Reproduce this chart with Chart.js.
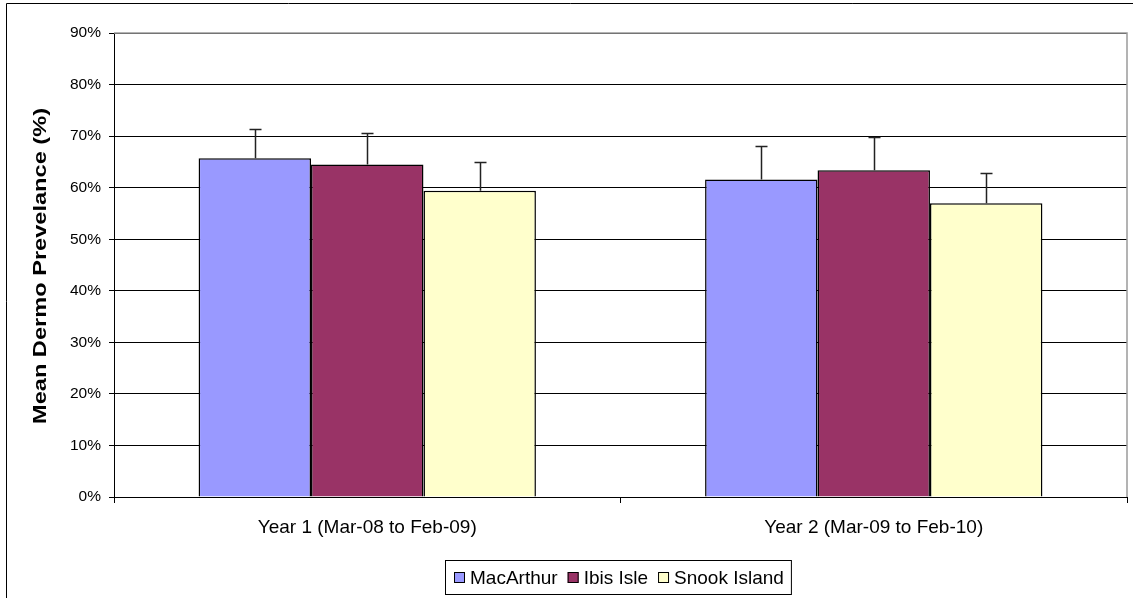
<!DOCTYPE html>
<html>
<head>
<meta charset="utf-8">
<script src="https://cdn.jsdelivr.net/npm/chart.js@4.4.1/dist/chart.umd.min.js"></script>
<style>
  html, body { margin: 0; padding: 0; background: #fff; }
  #wrap { width: 1133px; height: 598px; position: relative; }
</style>
</head>
<body>
<div id="wrap"><canvas id="dermo"></canvas></div>
<script>
const periods = ["Year 1 (Mar-08 to Feb-09)", "Year 2 (Mar-09 to Feb-10)"];
const sites = ["MacArthur", "Ibis Isle", "Snook Island"];
const macArthur = [65.7, 61.6];
const ibisIsle = [64.5, 63.4];
const snookIsland = [59.4, 57.0];
// upper error (percentage points)
const errMacArthur = [5.7, 6.4];
const errIbisIsle = [6.2, 6.4];
const errSnookIsland = [5.5, 5.8];
const yTicks = [0, 10, 20, 30, 40, 50, 60, 70, 80, 90];
const yTitle = "Mean Dermo Prevelance (%)";

const FONT = "'Liberation Sans', Arial, sans-serif";

const errorBars = {
  id: "errorBars",
  afterDatasetsDraw(chart) {
    const ctx = chart.ctx;
    const y = chart.scales.y;
    ctx.save();
    ctx.strokeStyle = "#222";
    ctx.lineWidth = 1.5;
    chart.data.datasets.forEach((ds, i) => {
      chart.getDatasetMeta(i).data.forEach((bar, j) => {
        const top = Math.round(y.getPixelForValue(ds.data[j] + ds.errors[j])) + 0.5;
        const x = Math.round(bar.x) + 0.5;
        ctx.beginPath();
        ctx.moveTo(x, bar.y);
        ctx.lineTo(x, top);
        ctx.moveTo(x - 6, top);
        ctx.lineTo(x + 6, top);
        ctx.stroke();
      });
    });
    ctx.restore();
  }
};

const frame = {
  id: "frame",
  beforeDatasetsDraw(chart) {
    const a = chart.chartArea;
    const ctx = chart.ctx;
    ctx.save();
    ctx.strokeStyle = "#9a9a9a";
    ctx.lineWidth = 1.5;
    ctx.beginPath();
    ctx.moveTo(a.left, a.top);
    ctx.lineTo(a.right, a.top);
    ctx.lineTo(a.right, a.bottom);
    ctx.stroke();
    ctx.restore();
  },
  afterDraw(chart) {
    const ctx = chart.ctx;
    const a = chart.chartArea;
    ctx.save();
    // outer chart border
    ctx.strokeStyle = "#000";
    ctx.lineWidth = 1;
    ctx.beginPath();
    ctx.moveTo(6.5, chart.height + 2);
    ctx.lineTo(6.5, 3.5);
    ctx.lineTo(chart.width + 2, 3.5);
    ctx.stroke();

    // y axis title, stretched like the original
    ctx.fillStyle = "#000";
    ctx.font = "bold 18px " + FONT;
    ctx.textAlign = "center";
    ctx.textBaseline = "alphabetic";
    const w = ctx.measureText(yTitle).width;
    ctx.translate(46, (a.top + a.bottom) / 2 + 1);
    ctx.rotate(-Math.PI / 2);
    ctx.scale(316 / w, 1);
    ctx.fillText(yTitle, 0, 0);
    ctx.restore();

    // legend
    ctx.save();
    ctx.font = "19px " + FONT;
    ctx.textBaseline = "alphabetic";
    ctx.textAlign = "left";
    const ds = chart.data.datasets;
    const box = 11, gapText = 5, gapItem = 10;
    const widths = ds.map(d => ctx.measureText(d.label).width);
    let total = 0;
    widths.forEach((tw, i) => { total += box + gapText + tw + (i < widths.length - 1 ? gapItem : 0); });
    const cx = (a.left + a.right) / 2 - 2;
    let x = Math.round(cx - total / 2);
    const top = a.bottom + 63;
    ctx.strokeStyle = "#000";
    ctx.lineWidth = 1;
    ctx.strokeRect(x - 9 + 0.5, top + 0.5, total + 16, 34);
    ds.forEach((d, i) => {
      ctx.fillStyle = d.backgroundColor;
      ctx.fillRect(x, top + 12, box, box);
      ctx.strokeRect(x + 0.5, top + 12.5, box - 1, box - 1);
      ctx.fillStyle = "#000";
      ctx.fillText(d.label, x + box + gapText, top + 24);
      x += box + gapText + widths[i] + gapItem;
    });
    ctx.restore();
  }
};

new Chart(document.getElementById("dermo"), {
  type: "bar",
  data: {
    labels: periods,
    datasets: [
      { label: sites[0], data: macArthur, errors: errMacArthur, backgroundColor: "#9999FF" },
      { label: sites[1], data: ibisIsle, errors: errIbisIsle, backgroundColor: "#993366" },
      { label: sites[2], data: snookIsland, errors: errSnookIsland, backgroundColor: "#FFFFCC" },
    ].map(d => Object.assign(d, {
      borderColor: "#000",
      borderWidth: 1.5,
      categoryPercentage: 0.666,
      barPercentage: 1,
    })),
  },
  options: {
    responsive: true,
    maintainAspectRatio: false,
    animation: false,
    layout: { padding: { left: 0, right: 6, top: 33, bottom: 56 } },
    plugins: {
      legend: { display: false },
      tooltip: { enabled: false },
    },
    scales: {
      x: {
        afterFit(s) { s.height = 45; },
        grid: { drawOnChartArea: false, color: "#000", tickLength: 6 },
        border: { color: "#000", width: 1 },
        ticks: { color: "#000", font: { family: FONT, size: 19 }, padding: 13, maxRotation: 0 },
      },
      y: {
        min: 0,
        max: 90,
        afterFit(s) { s.width = 114; },
        afterBuildTicks(s) { s.ticks = yTicks.map(v => ({ value: v })); },
        grid: { color: "#000", lineWidth: 1, tickLength: 5 },
        border: { color: "#000", width: 1 },
        ticks: {
          color: "#000",
          font: { family: FONT, size: 15.5 },
          padding: 8,
          callback: v => v + "%",
        },
      },
    },
  },
  plugins: [frame, errorBars],
});
</script>
</body>
</html>
